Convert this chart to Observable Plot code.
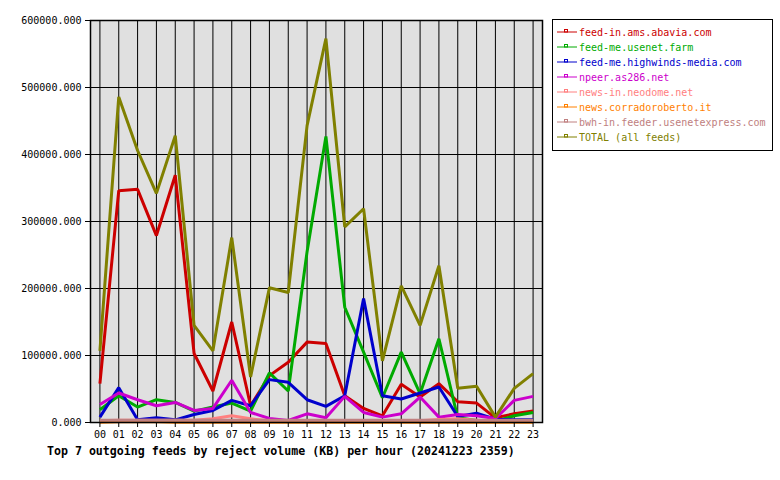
<!DOCTYPE html>
<html>
<head>
<meta charset="utf-8">
<script src="https://cdn.jsdelivr.net/npm/d3@7"></script>
<script src="https://cdn.jsdelivr.net/npm/@observablehq/plot@0.6"></script>
<style>
  html, body { margin: 0; padding: 0; background: #ffffff; }
  #wrap { position: relative; width: 780px; height: 480px; overflow: hidden; background: #fff; }
  #chart { position: absolute; left: 0; top: 0; }
  #legend { position: absolute; left: 0; top: 0; }
  #title { position: absolute; left: 47px; top: 444px; font-family: "DejaVu Sans Mono", monospace; font-weight: bold; font-size: 11.6px; line-height: 14px; white-space: pre; color: #000; }
</style>
</head>
<body>
<div id="wrap">
  <div id="chart"></div>
  <svg id="legend" width="780" height="480"></svg>
  <div id="title"></div>
</div>
<script>
const hours = ["00","01","02","03","04","05","06","07","08","09","10","11","12","13","14","15","16","17","18","19","20","21","22","23"];
const yTicks = [0, 100000, 200000, 300000, 400000, 500000, 600000];

const seriesNames = [
  "feed-in.ams.abavia.com",
  "feed-me.usenet.farm",
  "feed-me.highwinds-media.com",
  "npeer.as286.net",
  "news-in.neodome.net",
  "news.corradoroberto.it",
  "bwh-in.feeder.usenetexpress.com",
  "TOTAL (all feeds)"
];
const seriesColors = ["#cc0000", "#00aa00", "#0000cc", "#cc00cc", "#ff8080", "#ff8000", "#c08080", "#808000"];

const abavia      = [58000, 346000, 348000, 279000, 369000, 103000, 47000, 150000, 25000, 70000, 90000, 120000, 118000, 40000, 21000, 10000, 57000, 38000, 58000, 31000, 29000, 7000, 13000, 17000];
const usenetFarm  = [19000, 40000, 23000, 34000, 30000, 17000, 23000, 29000, 17000, 74000, 47000, 255000, 427000, 172000, 105000, 37000, 105000, 43000, 125000, 7000, 3000, 2000, 10000, 15000];
const highwinds   = [8000, 52000, 4000, 7000, 4000, 12000, 18000, 33000, 25000, 64000, 60000, 34000, 24000, 40000, 185000, 40000, 35000, 44000, 53000, 9000, 14000, 5000, 4000, 4000];
const npeer       = [27000, 44000, 34000, 25000, 30000, 18000, 21000, 63000, 15000, 6000, 3000, 13000, 7000, 39000, 15000, 8000, 13000, 38000, 8000, 12000, 10000, 6000, 33000, 39000];
const neodome     = [2500, 3500, 3500, 3500, 3500, 3500, 5500, 10000, 5500, 2500, 1500, 1500, 1500, 1500, 1500, 1500, 1500, 2500, 4500, 5500, 3500, 1500, 1500, 1500];
const corrado     = [500, 1000, 1000, 1000, 500, 500, 500, 500, 500, 500, 500, 500, 500, 500, 500, 500, 500, 500, 500, 500, 500, 500, 500, 500];
const bwh         = [3500, 3500, 3500, 3500, 3500, 3500, 3500, 3500, 3500, 3500, 3500, 3500, 3500, 3500, 3500, 3500, 3500, 3500, 3500, 3500, 3500, 3500, 3500, 3500];
const total       = [107000, 486000, 406000, 342000, 428000, 145000, 107000, 276000, 68000, 201000, 194000, 443000, 573000, 292000, 319000, 92000, 204000, 145000, 234000, 51000, 54000, 8000, 51000, 73000];

const titleText = "Top 7 outgoing feeds by reject volume (KB) per hour (20241223 2359)";

const seriesValues = [abavia, usenetFarm, highwinds, npeer, neodome, corrado, bwh, total];
const hourIdx = hours.map((h, i) => i);

const lineMarks = seriesValues.map((vals, si) =>
  Plot.line(vals.map((v, i) => ({hour: i, value: v})), {
    x: "hour", y: "value",
    stroke: seriesColors[si], strokeWidth: 3,
    strokeLinejoin: "miter", strokeLinecap: "butt"
  })
);

const chart = Plot.plot({
  width: 780,
  height: 440,
  marginLeft: 90,
  marginRight: 238,
  marginTop: 20,
  marginBottom: 18,
  style: {fontFamily: "DejaVu Sans Mono, monospace", fontSize: "10px", background: "transparent", color: "#000"},
  x: {type: "linear", domain: [-0.5, hours.length - 0.5], label: null},
  y: {domain: [0, 600000], label: null},
  marks: [
    Plot.frame({fill: "#e0e0e0", stroke: null}),
    Plot.ruleX(hourIdx, {stroke: "#000", strokeWidth: 1}),
    Plot.ruleY(yTicks, {stroke: "#000", strokeWidth: 1}),
    ...lineMarks,
    Plot.frame({stroke: "#000", strokeWidth: 1.5}),
    Plot.axisX({ticks: hourIdx, tickFormat: i => hours[i], tickSize: 5, tickPadding: 3, fill: "#000", stroke: "#000", fontSize: 10}),
    Plot.axisY({ticks: yTicks, tickFormat: d3.format(".3f"), tickSize: 5, tickPadding: 4, fill: "#000", stroke: "#000", fontSize: 10})
  ]
});
document.getElementById("chart").appendChild(chart);

// Legend
const lg = d3.select("#legend");
lg.append("rect").attr("x", 552.5).attr("y", 19.5).attr("width", 220).attr("height", 131)
  .attr("fill", "#fff").attr("stroke", "#000").attr("stroke-width", 1);
seriesNames.forEach((name, i) => {
  const cy = 32 + i * 15;
  const g = lg.append("g");
  g.append("line").attr("x1", 557).attr("x2", 577).attr("y1", cy).attr("y2", cy)
    .attr("stroke", seriesColors[i]).attr("stroke-width", 1);
  g.append("rect").attr("x", 564.5).attr("y", cy - 2.5).attr("width", 3).attr("height", 2.5)
    .attr("fill", "none").attr("stroke", seriesColors[i]).attr("stroke-width", 1);
  g.append("text").attr("x", 579).attr("y", cy + 4)
    .attr("fill", seriesColors[i])
    .attr("font-family", "DejaVu Sans Mono, monospace").attr("font-size", 10)
    .text(name);
});

document.getElementById("title").textContent = titleText;
</script>
</body>
</html>
